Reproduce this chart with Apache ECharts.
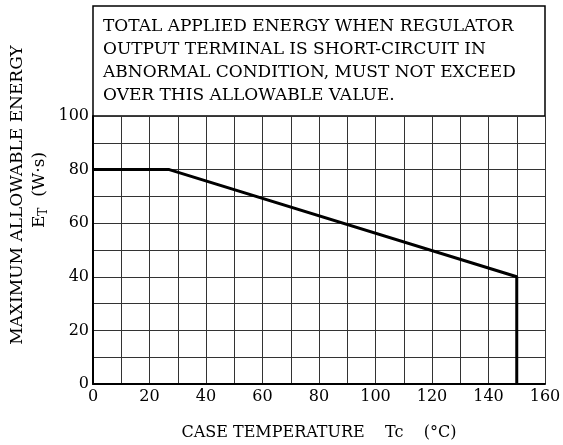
<!DOCTYPE html>
<html><head><meta charset="utf-8">
<script src="https://cdn.jsdelivr.net/npm/echarts@6/dist/echarts.min.js"></script>
<style>html,body{margin:0;padding:0;background:#fff}#c{width:563px;height:445px}</style>
</head><body><div id="c"></div>
<script>
var temps = [0, 27, 150, 150];
var energy = [80, 80, 40, 0];
var xTicks = [0, 20, 40, 60, 80, 100, 120, 140, 160];
var yTicks = [0, 20, 40, 60, 80, 100];
var noteLines = [
  'TOTAL APPLIED ENERGY WHEN REGULATOR',
  'OUTPUT TERMINAL IS SHORT-CIRCUIT IN',
  'ABNORMAL CONDITION, MUST NOT EXCEED',
  'OVER THIS ALLOWABLE VALUE.'
];
var yTitle1 = 'MAXIMUM ALLOWABLE ENERGY';
var yTitle2 = ['E', 'T', '  (W·s)'];
var xTitle = 'CASE TEMPERATURE    Tc    (°C)';
var FONT = 'DejaVu Serif';
var chart = echarts.init(document.getElementById('c'), null, {renderer:'canvas'});
chart.setOption({
  animation: false,
  grid: {left: 93, right: 18, top: 116, bottom: 61, containLabel: false, outerBoundsMode: 'none'},
  xAxis: {
    type: 'value', min: 0, max: 160, interval: 10,
    name: xTitle, nameLocation: 'middle', nameGap: 41,
    nameTextStyle: {fontFamily: FONT, fontSize: 16, color: '#000'},
    axisLine: {show: true, onZero: false, lineStyle: {color: '#000', width: 2}},
    axisTick: {show: false},
    axisLabel: {color: '#000', fontFamily: FONT, fontSize: 16, margin: 5,
      formatter: function(v){ return xTicks.indexOf(v) >= 0 ? String(v) : ''; }},
    splitLine: {show: true, lineStyle: {color: '#333', width: 1}}
  },
  yAxis: {
    type: 'value', min: 0, max: 100, interval: 10,
    axisLine: {show: true, onZero: false, lineStyle: {color: '#000', width: 2}},
    axisTick: {show: false},
    axisLabel: {color: '#000', fontFamily: FONT, fontSize: 16, margin: 4,
      formatter: function(v){ return yTicks.indexOf(v) >= 0 ? String(v) : ''; }},
    splitLine: {show: true, lineStyle: {color: '#333', width: 1}}
  },
  series: [{
    type: 'line', data: temps.map(function(t, i){ return [t, energy[i]]; }),
    symbol: 'none', lineStyle: {color: '#000', width: 3}
  }],
  graphic: [
    {type: 'rect', shape: {x: 93, y: 6, width: 452, height: 110},
     style: {fill: '#fff', stroke: '#000', lineWidth: 1.5}},
    {type: 'text', left: 103, top: 15,
     style: {text: noteLines.join('\n'), font: '17px "' + FONT + '"', lineHeight: 23, fill: '#000'}},
    {type: 'text', x: 18, y: 195, rotation: Math.PI / 2,
     style: {text: yTitle1, font: '17px "' + FONT + '"', fill: '#000', align: 'center', verticalAlign: 'middle'}},
    {type: 'text', x: 40, y: 190, rotation: Math.PI / 2,
     style: {text: '{b|' + yTitle2[0] + '}{s|' + yTitle2[1] + '}{b|' + yTitle2[2] + '}',
       align: 'center', verticalAlign: 'middle', fill: '#000',
       rich: {
         b: {fontFamily: FONT, fontSize: 17, fill: '#000', lineHeight: 22},
         s: {fontFamily: FONT, fontSize: 12, fill: '#000', lineHeight: 22, padding: [8,0,0,0]}
       }}}
  ]
});
</script></body></html>
